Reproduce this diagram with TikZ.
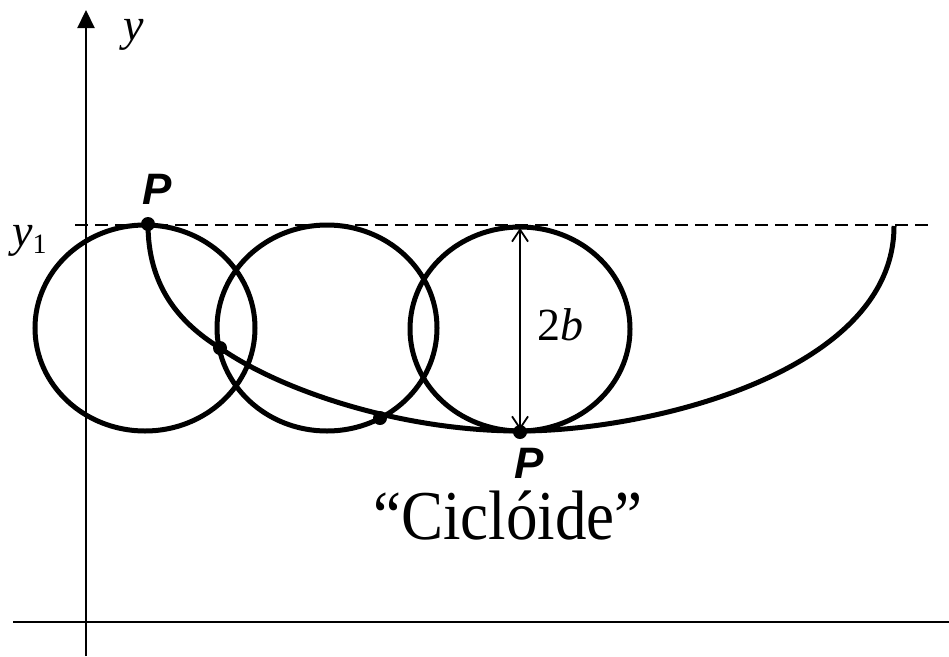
\documentclass[tikz,border=0pt]{standalone}
\usepackage{fontspec}
\setmainfont{Liberation Serif}
\newfontfamily\sansP{Liberation Sans}
\usetikzlibrary{arrows.meta}
\tikzset{
  axisline/.style={line width=2.2pt},
  curveline/.style={line width=5pt},
  ptdot/.style={circle,fill=black,inner sep=0pt,minimum size=14pt},
  plabel/.style={font=\sansP\bfseries\itshape\fontsize{44}{46}\selectfont,inner sep=0pt},
  mlabel/.style={font=\fontsize{46}{50}\selectfont,inner sep=0pt},
  dashline/.style={line width=2.2pt,dash pattern=on 13pt off 7pt},
}
\begin{document}
\begin{tikzpicture}[x=1pt,y=-1pt]
\useasboundingbox (0,0) rectangle (949,656);
% axes
\coordinate (ybot) at (86,656);
\coordinate (ytop) at (86,10);
\coordinate (xl) at (13,622);
\coordinate (xr) at (949,622);
\draw[axisline,-{Triangle[length=18pt,width=17pt]}] (ybot) -- (ytop);
\draw[axisline] (xl) -- (xr);
\node[mlabel,anchor=base] (ylab) at (134,40) {\itshape y};
\node[mlabel,anchor=base west] (y1lab) at (12,246) {\itshape y\raisebox{-7pt}{\upshape\fontsize{28}{30}\selectfont 1}};
% dashed line
\coordinate (dl) at (75,225);
\coordinate (dr) at (932,225);
\draw[dashline] (dl) -- (dr);
% circles
\draw[curveline] (145,328) ellipse [x radius=110, y radius=103];
\draw[curveline] (327,328) ellipse [x radius=110, y radius=103];
\draw[curveline] (520,329) ellipse [x radius=110, y radius=102];
% points
\node[ptdot] (p0) at (148,224) {};
\node[ptdot] (p1) at (220,348) {};
\node[ptdot] (p2) at (380,418) {};
\node[ptdot] (p3) at (520,432) {};
\coordinate (cend) at (894,226);
% cycloid
\draw[curveline,line join=round] (p0.center) .. controls (148,285) and (178,322) .. (p1.center)
  .. controls (280,390) and (400,431) .. (520,431)
  .. controls (650,431) and (894,372) .. (cend);
\node[plabel] (P0) at (157,189) {P};
\node[plabel] (P3) at (529,463) {P};
% 2b arrow
\coordinate (at) at (520,228);
\coordinate (ab) at (520,430);
\draw[line width=1.8pt,{Straight Barb[length=12pt,width=16pt]}-{Straight Barb[length=12pt,width=16pt]}] (at) -- (ab);
\node[mlabel] (twob) at (560,325) {2\textit{b}};
% caption
\node[font=\fontsize{70}{74}\selectfont,anchor=base,inner sep=0pt,xscale=0.9] (cap) at (508,539) {“Ciclóide”};
\end{tikzpicture}
\end{document}
